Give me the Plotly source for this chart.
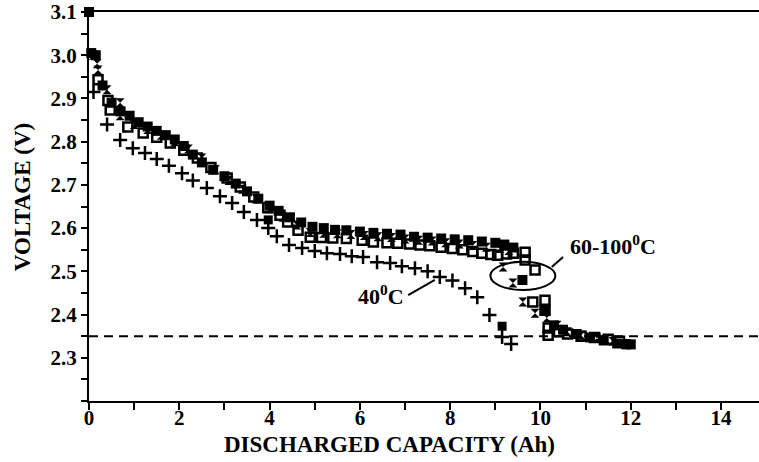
import plotly.graph_objects as go

# ---- data ----
# 60-100 C cluster: filled squares (upper envelope)
xa = [0.0, 0.05, 0.15, 0.3, 0.5, 0.7, 0.9, 1.1, 1.3, 1.5, 1.7, 1.9, 2.1, 2.3, 2.5, 2.75, 3.0, 3.25,
      3.5, 3.75, 4.0, 4.2, 4.45, 4.7, 4.95, 5.2, 5.45, 5.7, 6.0, 6.3, 6.6, 6.9, 7.2, 7.5, 7.8, 8.1,
      8.4, 8.7, 9.0, 9.2, 9.4, 9.6, 10.1, 10.3, 10.5, 10.8, 11.1, 11.4, 11.7, 11.9, 12.0]
ya = [3.10, 3.005, 3.0, 2.93, 2.89, 2.87, 2.86, 2.845, 2.835, 2.825, 2.815, 2.805, 2.79, 2.77, 2.752,
      2.735, 2.72, 2.703, 2.685, 2.668, 2.652, 2.64, 2.625, 2.613, 2.603, 2.6, 2.596, 2.595, 2.592,
      2.589, 2.587, 2.585, 2.58, 2.578, 2.576, 2.574, 2.572, 2.569, 2.566, 2.562, 2.555, 2.48, 2.41,
      2.375, 2.365, 2.355, 2.347, 2.34, 2.333, 2.331, 2.331]

# 60-100 C cluster: open squares (lower envelope)
xb = [0.2, 0.42, 0.47, 0.86, 1.2, 1.5, 1.8, 2.1, 2.4, 2.7, 3.06, 3.35, 3.65, 3.96, 4.23, 4.4, 4.63,
      4.9, 5.15, 5.4, 5.7, 6.05, 6.3, 6.6, 6.84, 7.1, 7.33, 7.55, 7.8, 8.05, 8.28, 8.5, 8.7, 8.9, 9.05,
      9.25, 9.4, 9.66, 9.66, 9.88, 9.83, 10.1, 10.1, 10.17, 10.17, 10.4, 10.6, 10.9, 11.2, 11.5, 11.75]
yb = [2.943, 2.895, 2.873, 2.834, 2.82, 2.81, 2.797, 2.78, 2.762, 2.74, 2.716, 2.695, 2.672, 2.647,
      2.63, 2.614, 2.595, 2.579, 2.578, 2.577, 2.576, 2.572, 2.568, 2.566, 2.565, 2.563, 2.561, 2.559,
      2.556, 2.553, 2.55, 2.546, 2.542, 2.539, 2.537, 2.54, 2.542, 2.544, 2.526, 2.503, 2.429, 2.433,
      2.41, 2.369, 2.352, 2.36, 2.355, 2.35, 2.347, 2.343, 2.338]

# 60-100 C cluster: hourglass markers (middle)
xc = [0.1, 0.18, 0.2, 0.4, 0.69, 0.69, 1.0, 1.3, 1.6, 1.9, 2.2, 2.5, 2.8, 3.1, 3.4, 3.7, 4.0, 4.3,
      4.6, 4.9, 5.2, 5.5, 5.8, 6.1, 6.4, 6.7, 7.0, 7.3, 7.6, 7.9, 8.2, 8.5, 8.8, 9.1, 9.3, 9.17, 9.39,
      9.61, 9.88, 10.14, 10.37, 10.6, 10.9, 11.25, 11.6, 11.9]
yc = [3.0, 2.98, 2.966, 2.92, 2.89, 2.86, 2.84, 2.828, 2.815, 2.8, 2.783, 2.762, 2.735, 2.71, 2.69,
      2.668, 2.645, 2.625, 2.607, 2.59, 2.588, 2.587, 2.585, 2.583, 2.58, 2.578, 2.575, 2.572, 2.57,
      2.566, 2.563, 2.56, 2.556, 2.553, 2.548, 2.51, 2.473, 2.429, 2.403, 2.392, 2.375, 2.36, 2.352,
      2.345, 2.338, 2.333]

# 40 C: plus markers
xd = [0.1, 0.4, 0.69, 0.97, 1.24, 1.5, 1.77, 2.06, 2.3, 2.61, 2.9, 3.17, 3.43, 3.72, 3.97, 4.16,
      4.43, 4.72, 5.0, 5.27, 5.56, 5.82, 6.07, 6.38, 6.67, 6.93, 7.22, 7.5, 7.77, 8.05, 8.33, 8.6,
      8.87, 9.15, 9.35]
yd = [2.915, 2.84, 2.804, 2.785, 2.774, 2.76, 2.744, 2.727, 2.71, 2.693, 2.674, 2.658, 2.637, 2.619,
      2.6, 2.581, 2.561, 2.554, 2.547, 2.542, 2.54, 2.535, 2.533, 2.521, 2.519, 2.512, 2.507, 2.5,
      2.487, 2.479, 2.461, 2.44, 2.399, 2.348, 2.332]
# 40 C: filled squares
xe = [3.97, 9.15]
ye = [2.619, 2.373]

cutoff_v = 2.35
x_ticks = [0, 2, 4, 6, 8, 10, 12, 14]
y_ticks = [2.3, 2.4, 2.5, 2.6, 2.7, 2.8, 2.9, 3.0, 3.1]

FONT = "Liberation Serif"
TFONT = dict(family=FONT, size=23, color="black", weight="bold")

fig = go.Figure()
fig.add_trace(go.Scatter(x=xb, y=yb, mode="markers",
                         marker=dict(symbol="square-open", size=9, color="black", line=dict(width=2.5))))
fig.add_trace(go.Scatter(x=xc, y=yc, mode="markers",
                         marker=dict(symbol="hourglass", size=9, color="black")))
fig.add_trace(go.Scatter(x=xa, y=ya, mode="markers", cliponaxis=False,
                         marker=dict(symbol="square", size=10, color="black")))
fig.add_trace(go.Scatter(x=xd, y=yd, mode="markers",
                         marker=dict(symbol="cross-thin-open", size=10, color="black",
                                     line=dict(width=2.5, color="black"))))
fig.add_trace(go.Scatter(x=xe, y=ye, mode="markers",
                         marker=dict(symbol="square", size=9, color="black")))

# cutoff dashed line
fig.add_shape(type="line", xref="x", yref="y", x0=0, x1=14.9, y0=cutoff_v, y1=cutoff_v,
              line=dict(color="black", width=2, dash="9px,6px"))
# ellipse around knee
fig.add_shape(type="circle", xref="x", yref="y", x0=8.89, x1=10.33, y0=2.457, y1=2.522,
              line=dict(color="black", width=2))
# connector lines
fig.add_shape(type="line", xref="x", yref="y", x0=10.5, y0=2.533, x1=10.25, y1=2.51,
              line=dict(color="black", width=2))
fig.add_shape(type="line", xref="x", yref="y", x0=7.07, y0=2.445, x1=7.66, y1=2.48,
              line=dict(color="black", width=2))

fig.add_annotation(x=11.6, y=2.561, xref="x", yref="y", text="60-100<sup>0</sup>C", showarrow=False,
                   xanchor="center", yanchor="middle",
                   font=dict(family=FONT, size=22, color="black", weight="bold"))
fig.add_annotation(x=6.47, y=2.445, xref="x", yref="y", text="40<sup>0</sup>C", showarrow=False,
                   xanchor="center", yanchor="middle",
                   font=dict(family=FONT, size=22, color="black", weight="bold"))

# axis titles as annotations for exact placement
fig.add_annotation(x=-0.1, y=0.524, xref="paper", yref="paper", text="VOLTAGE (V)",
                   textangle=-90, showarrow=False, xanchor="center", yanchor="middle", font=TFONT)
fig.add_annotation(x=0.448, y=-0.113, xref="paper", yref="paper", text="DISCHARGED CAPACITY (Ah)",
                   showarrow=False, xanchor="center", yanchor="middle", font=TFONT)

fig.update_layout(
    width=759, height=462,
    margin=dict(l=89, r=0, t=12, b=61, autoexpand=False),
    paper_bgcolor="white", plot_bgcolor="white",
    showlegend=False,
    font=dict(family=FONT, color="black"),
)
fig.update_xaxes(
    range=[0, 14.84], tickvals=x_ticks, ticks="outside", ticklen=7, tickwidth=2, tickcolor="black",
    minor=dict(dtick=1, ticks="outside", ticklen=7, tickwidth=2, tickcolor="black"),
    showline=True, linecolor="black", linewidth=2, mirror=True, showgrid=False, zeroline=False,
    automargin=False, ticklabelstandoff=-10,
    tickfont=dict(family=FONT, size=21, color="black", weight="bold"),
)
fig.update_yaxes(
    range=[2.2, 3.1], tickvals=y_ticks, tickformat=".1f", ticks="outside", ticklen=6, tickwidth=2,
    tickcolor="black",
    minor=dict(dtick=0.05, tick0=2.2, ticks="outside", ticklen=6, tickwidth=2, tickcolor="black"),
    showline=True, linecolor="black", linewidth=2, showgrid=False, zeroline=False,
    automargin=False, ticklabeloverflow="allow",
    tickfont=dict(family=FONT, size=21, color="black", weight="bold"),
)

# remove the page's default 8px body margin so the 759x462 figure fills the window exactly
fig.write_html("out.html", config={"displayModeBar": False},
               post_script="document.body.style.margin='0';document.body.style.overflow='hidden';")
